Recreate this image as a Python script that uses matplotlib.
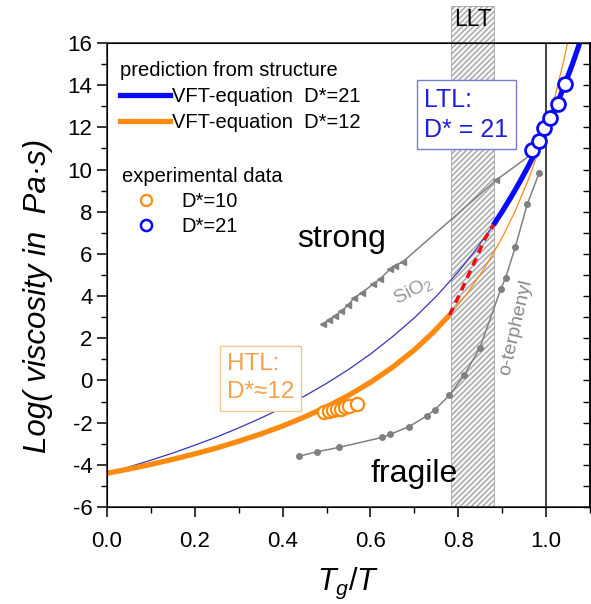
import matplotlib
matplotlib.use('Agg')
import matplotlib.pyplot as plt
from matplotlib.lines import Line2D

plt.rcParams['font.family'] = ['Liberation Sans', 'DejaVu Sans']
plt.rcParams['mathtext.fontset'] = 'custom'
plt.rcParams['mathtext.rm'] = 'Liberation Sans'
plt.rcParams['mathtext.it'] = 'Liberation Sans:italic'
plt.rcParams['axes.unicode_minus'] = False

# ---------------- data ----------------
# VFT D*=12 (orange) - thick part (HTL)
orange_thick_x = [0, 0.05, 0.1, 0.15, 0.2, 0.25, 0.3, 0.35, 0.4, 0.45, 0.5, 0.55, 0.6, 0.65, 0.7, 0.74, 0.78]
orange_thick_y = [-4.4, -4.2, -3.98, -3.74, -3.48, -3.2, -2.88, -2.54, -2.16, -1.73, -1.25, -0.71, -0.09, 0.62, 1.45, 2.22, 3.10]
# VFT D*=12 (orange) - thin continuation
orange_thin_x = [0.78, 0.82, 0.86, 0.90, 0.93, 0.96, 0.98, 1.00, 1.02, 1.04, 1.06]
orange_thin_y = [3.10, 4.12, 5.33, 6.77, 8.05, 9.54, 10.70, 11.99, 13.45, 15.15, 17.1]
# VFT D*=21 (blue) - thin part
blue_thin_x = [0, 0.05, 0.1, 0.15, 0.2, 0.25, 0.3, 0.35, 0.4, 0.45, 0.5, 0.55, 0.6, 0.65, 0.7, 0.75, 0.8, 0.84, 0.88]
blue_thin_y = [-4.4, -4.10, -3.78, -3.44, -3.07, -2.68, -2.25, -1.79, -1.29, -0.74, -0.14, 0.52, 1.25, 2.07, 2.97, 3.99, 5.15, 6.20, 7.37]
# VFT D*=21 (blue) - thick part (LTL)
blue_thick_x = [0.88, 0.90, 0.92, 0.94, 0.96, 0.98, 1.00, 1.02, 1.04, 1.06, 1.08]
blue_thick_y = [7.37, 8.01, 8.69, 9.41, 10.18, 11.01, 11.90, 12.86, 13.89, 15.00, 16.21]
# LLT connection (red dashed)
llt_x = [0.78, 0.80, 0.82, 0.84, 0.86, 0.88]
llt_y = [3.10, 3.95, 4.85, 5.75, 6.70, 7.37]
# experimental data
exp10_x = [0.495, 0.505, 0.515, 0.524, 0.533, 0.542, 0.552, 0.570]
exp10_y = [-1.50, -1.46, -1.42, -1.37, -1.33, -1.28, -1.22, -1.10]
exp21_x = [0.967, 0.983, 0.995, 1.010, 1.026, 1.044]
exp21_y = [10.95, 11.33, 11.95, 12.43, 13.10, 14.05]
# SiO2
sio2_x = [0.492, 0.506, 0.519, 0.534, 0.549, 0.562, 0.580, 0.606, 0.621, 0.644, 0.655, 0.674, 0.887, 0.963]
sio2_y = [2.68, 2.89, 3.05, 3.29, 3.57, 3.89, 4.16, 4.56, 4.79, 5.27, 5.43, 5.63, 9.51, 10.67]
# o-terphenyl
ot_x = [0.437, 0.479, 0.529, 0.627, 0.644, 0.688, 0.728, 0.746, 0.780, 0.814, 0.849, 0.897, 0.908, 0.930, 0.957, 0.984]
ot_y = [-3.59, -3.38, -3.17, -2.70, -2.56, -2.19, -1.68, -1.40, -0.70, 0.27, 1.54, 4.34, 4.88, 6.34, 8.35, 9.83]

llt_band = (0.783, 0.882)
xticks = [0.0, 0.2, 0.4, 0.6, 0.8, 1.0]
yticks = [-6, -4, -2, 0, 2, 4, 6, 8, 10, 12, 14, 16]

BLUE = '#0a0aff'
BLUE_THIN = '#3535b8'
ORANGE = '#ff8a10'
GRAY = '#808080'

fig = plt.figure(figsize=(5.91, 6.04), dpi=100)
ax = fig.add_axes([107/591, 1-507/604, 483/591, 464/604])
ax.set_xlim(0, 1.1)
ax.set_ylim(-6, 16)

# LLT band
ax.axvspan(llt_band[0], llt_band[1], ymin=0, ymax=1.08, facecolor='#f6f6f6',
           edgecolor='#a5a5a5', hatch='//////', lw=0.6, clip_on=False, zorder=0)
ax.text(sum(llt_band)/2, 17.1, 'LLT', ha='center', va='center', fontsize=16.5, clip_on=False)
ax.axvline(1.0, color='#222222', lw=1.2, zorder=1)

# reference liquids
ax.plot(sio2_x, sio2_y, color=GRAY, lw=1.1, marker='<', ms=4, markevery=list(range(len(sio2_x)-1)), zorder=2)
ax.plot(ot_x, ot_y, color=GRAY, lw=1.1, marker='o', ms=4, zorder=2)

# VFT curves
ax.plot(blue_thin_x, blue_thin_y, color=BLUE_THIN, lw=0.9, zorder=3)
ax.plot(orange_thin_x, orange_thin_y, color=ORANGE, lw=0.9, zorder=3)
ax.plot(orange_thick_x, orange_thick_y, color=ORANGE, lw=3.8, solid_capstyle='butt', zorder=4)
ax.plot(blue_thick_x, blue_thick_y, color=BLUE, lw=3.8, solid_capstyle='butt', zorder=4)
ax.plot(llt_x, llt_y, color='#e81010', lw=2.6, ls=(0, (2.2, 1.6)), zorder=4)

# experimental
ax.plot(exp10_x, exp10_y, ls='none', marker='o', ms=9.5, mfc='white', mec=ORANGE, mew=1.6, zorder=5)
ax.plot(exp21_x, exp21_y, ls='none', marker='o', ms=10, mfc='white', mec=BLUE, mew=2.0, zorder=5)

# annotations
ax.text(0.535, 6.7, 'strong', fontsize=23, ha='center', va='center')
ax.text(0.70, -4.45, 'fragile', fontsize=23, ha='center', va='center')
ax.text(0.697, 4.24, 'SiO$_2$', fontsize=14, color='#9a9a9a', rotation=27, ha='center', va='center')
ax.text(0.932, 2.5, 'o-terphenyl', fontsize=14, color='#8a8a8a', rotation=77, ha='center', va='center')
ax.text(0.273, 0.1, 'HTL:\nD*≈12', fontsize=17.5, color='#f5a14a', ha='left', va='center', linespacing=1.35,
        bbox=dict(boxstyle='square,pad=0.3', fc='white', ec='#f7c88e', lw=1.0), zorder=6)
ax.text(0.722, 12.6, 'LTL:\nD* = 21', fontsize=18, color='#1f1fd8', ha='left', va='center', linespacing=1.3,
        bbox=dict(boxstyle='square,pad=0.3', fc='white', ec='#7a7ad8', lw=1.0), zorder=6)

# legends
h1 = [Line2D([], [], color=BLUE, lw=3.8), Line2D([], [], color=ORANGE, lw=3.8)]
leg1 = ax.legend(h1, ['VFT-equation  D*=21', 'VFT-equation  D*=12'], title='prediction from structure',
                 loc='upper left', bbox_to_anchor=(0.027, 0.961), borderaxespad=0, borderpad=0,
                 frameon=False, fontsize=14.5, title_fontsize=14.5, handlelength=2.5, handletextpad=0.1,
                 labelspacing=0.35, alignment='left')
ax.add_artist(leg1)
h2 = [Line2D([], [], ls='none', marker='o', ms=8, mfc='white', mec=ORANGE, mew=1.6),
      Line2D([], [], ls='none', marker='o', ms=8, mfc='white', mec=BLUE, mew=1.8)]
ax.legend(h2, ['D*=10', 'D*=21'], title='experimental data', loc='upper left',
          bbox_to_anchor=(0.031, 0.733), borderaxespad=0, borderpad=0, frameon=False,
          fontsize=14.5, title_fontsize=14.5, handlelength=2.4, handletextpad=0.55,
          labelspacing=0.3, alignment='left')

# axes styling
ax.set_xticks(xticks)
ax.set_xticklabels([f'{v:.1f}' for v in xticks])
ax.set_yticks(yticks)
ax.set_xticks([0.1, 0.3, 0.5, 0.7, 0.9, 1.1], minor=True)
ax.set_yticks(list(range(-5, 16, 2)), minor=True)
ax.tick_params(axis='both', which='major', labelsize=16, direction='out', length=7, width=1.1)
ax.tick_params(axis='both', which='minor', direction='out', length=4, width=1.0)
ax.tick_params(axis='x', which='major', pad=10)
for s in ax.spines.values():
    s.set_linewidth(1.2)
    s.set_color('#333333')

ax2 = ax.twinx()
ax2.set_ylim(-6, 16)
ax2.set_yticks(list(range(-6, 17)))
ax2.tick_params(axis='y', direction='in', length=5, width=1.0, labelright=False)
ax2.spines['right'].set_linewidth(1.2)

ax.set_xlabel('$T_g/T$', fontsize=22, labelpad=10)
ax.set_ylabel('Log( viscosity in  Pa·s)', fontsize=22.5, fontstyle='italic')
ax.yaxis.set_label_coords(-0.112, 0.455)

fig.savefig('out.png', dpi=100)
